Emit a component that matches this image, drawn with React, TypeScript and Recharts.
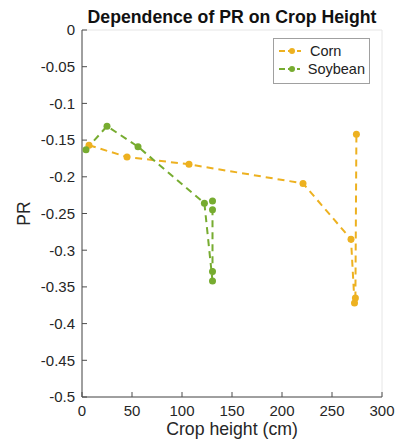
import React from 'react';
import { LineChart, Line, XAxis, YAxis, CartesianGrid } from 'recharts';

const cornHeight = [7, 45, 107, 221, 269, 272.5, 273.4, 274.4];
const cornPR = [-0.157, -0.173, -0.183, -0.209, -0.285, -0.372, -0.365, -0.142];
const soyHeight = [4, 25, 56, 122.4, 130.5, 130.5, 130.5, 130.5];
const soyPR = [-0.163, -0.131, -0.159, -0.236, -0.342, -0.329, -0.245, -0.233];
const xTicks = [0, 50, 100, 150, 200, 250, 300];
const yTicks = [0, -0.05, -0.1, -0.15, -0.2, -0.25, -0.3, -0.35, -0.4, -0.45, -0.5];

const corn = cornHeight.map((h, i) => ({ h, pr: cornPR[i] }));
const soy = soyHeight.map((h, i) => ({ h, pr: soyPR[i] }));

const ORANGE = '#EDB120';
const GREEN = '#77AC30';
const FONT = '"Liberation Sans", Arial, Helvetica, sans-serif';
const AXIS = '#4d4d4d';

const series = [
  { name: 'Corn', color: ORANGE },
  { name: 'Soybean', color: GREEN },
];

const LegendBox = () => (
  <div
    style={{
      position: 'absolute',
      left: 273,
      top: 38,
      width: 97,
      height: 46,
      boxSizing: 'border-box',
      border: '1px solid #a0a0a0',
      background: '#fff',
      padding: '3px 4px 0 4px',
      fontFamily: FONT,
      fontSize: 14.5,
      color: '#222',
      lineHeight: '18px',
    }}
  >
    {series.map((s) => (
      <div key={s.name} style={{ display: 'flex', alignItems: 'center' }}>
        <svg width={24} height={10} style={{ marginRight: 8 }}>
          <line x1={1} y1={5} x2={23} y2={5} stroke={s.color} strokeWidth={2} strokeDasharray="6 3" />
          <circle cx={14} cy={5} r={3} fill={s.color} />
        </svg>
        <span>{s.name}</span>
      </div>
    ))}
  </div>
);

const fmtY = (v: number) => (v === 0 ? '0' : String(v));

export default function App() {
  return (
    <div style={{ position: 'absolute', left: 0, top: 0, width: 397, height: 445, background: '#fff' }}>
      <LineChart width={397} height={445} margin={{ top: 30, right: 15, bottom: 0, left: 0 }}>
        <CartesianGrid stroke="#e6e6e6" strokeWidth={1} />
        <XAxis
          xAxisId="b"
          dataKey="h"
          type="number"
          domain={[0, 300]}
          ticks={xTicks}
          allowDataOverflow
          height={48}
          stroke={AXIS}
          tickSize={-5}
          tickMargin={13}
          tick={{ fontFamily: FONT, fontSize: 15, fill: '#262626' }}
          label={{ value: 'Crop height (cm)', position: 'insideBottom', offset: 10, style: { fontFamily: FONT, fontSize: 17.7, fill: '#262626' } }}
        />
        <XAxis
          xAxisId="t"
          dataKey="h"
          type="number"
          orientation="top"
          domain={[0, 300]}
          ticks={xTicks}
          height={0}
          stroke={AXIS}
          tickSize={-5}
          tick={false}
        />
        <YAxis
          yAxisId="l"
          type="number"
          domain={[-0.5, 0]}
          ticks={yTicks}
          allowDataOverflow
          width={82}
          stroke={AXIS}
          tickSize={-5}
          tickMargin={12}
          tickFormatter={fmtY}
          tick={{ fontFamily: FONT, fontSize: 15, fill: '#262626' }}
          label={{ value: 'PR', angle: -90, position: 'insideLeft', offset: 24, style: { fontFamily: FONT, fontSize: 17.5, fill: '#262626', textAnchor: 'middle' } }}
        />
        <YAxis
          yAxisId="r"
          type="number"
          orientation="right"
          domain={[-0.5, 0]}
          ticks={yTicks}
          width={0}
          stroke={AXIS}
          tickSize={-5}
          tick={false}
        />
        <Line
          xAxisId="b"
          yAxisId="l"
          name="Corn"
          data={corn}
          dataKey="pr"
          stroke={ORANGE}
          strokeWidth={2}
          strokeDasharray="7 5"
          dot={{ r: 3.5, fill: ORANGE, stroke: ORANGE, strokeWidth: 0 }}
          activeDot={false}
          isAnimationActive={false}
        />
        <Line
          xAxisId="b"
          yAxisId="l"
          name="Soybean"
          data={soy}
          dataKey="pr"
          stroke={GREEN}
          strokeWidth={2}
          strokeDasharray="7 5"
          dot={{ r: 3.5, fill: GREEN, stroke: GREEN, strokeWidth: 0 }}
          activeDot={false}
          isAnimationActive={false}
        />
      </LineChart>
      <div
        style={{
          position: 'absolute',
          left: 82,
          width: 300,
          top: 6,
          textAlign: 'center',
          fontFamily: FONT,
          fontWeight: 'bold',
          fontSize: 17.7,
          lineHeight: '22px',
          color: '#111',
          whiteSpace: 'nowrap',
        }}
      >
        Dependence of PR on Crop Height
      </div>
      <LegendBox />
    </div>
  );
}
